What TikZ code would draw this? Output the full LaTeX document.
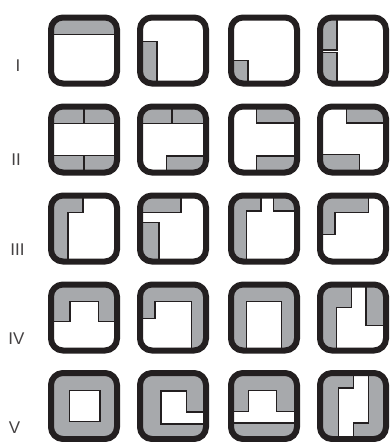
\documentclass[tikz,border=0pt]{standalone}
\usepackage{fontspec}
\setmainfont{Liberation Sans}
\definecolor{tilegray}{HTML}{A7A9AC}
\definecolor{framecol}{HTML}{231F20}
\tikzset{
  g/.style={fill=tilegray, draw=framecol, line width=1.1pt},
  w/.style={fill=white, draw=framecol, line width=1.1pt},
  frame/.style={draw=framecol, line width=6pt, rounded corners=12pt},
  rowlabel/.style={font=\fontsize{17}{17}\selectfont, text=framecol!85, inner sep=0pt},
}
\newcommand\sqtile[3]{%
  \begin{scope}[shift={(#1,#2)}]
    \begin{scope}
      \clip[rounded corners=9pt] (4.5,4.5) rectangle (67.5,67.5);
      #3
    \end{scope}
    \draw[frame] (3,3) rectangle (69,69);
  \end{scope}}
\newcommand\allgray{\fill[tilegray] (-2,-2) rectangle (74,74);}
\begin{document}
\begin{tikzpicture}[x=1pt,y=-1pt]
\useasboundingbox (0,0) rectangle (390,442);
% labels
\node[rowlabel] (l1) at (18,66) {I};
\node[rowlabel] (l2) at (16,160) {II};
\node[rowlabel] (l3) at (17.5,250) {III};
\node[rowlabel] (l4) at (16.5,339) {IV};
\node[rowlabel] (l5) at (14.5,428) {V};
% Row I
\sqtile{48}{14.5}{\filldraw[g] (-2,-2) rectangle (74,20);}
\sqtile{137}{14.5}{\filldraw[g] (-2,27) rectangle (20,74);}
\sqtile{228}{14.5}{\filldraw[g] (-2,46) rectangle (20,74);}
\sqtile{317}{14.5}{\filldraw[g] (-2,-2) rectangle (20,35.5); \filldraw[g] (-2,38) rectangle (20,74);}
% Row II
\sqtile{48}{103.5}{\filldraw[g] (-2,-2) rectangle (36,20); \filldraw[g] (36,-2) rectangle (74,20);
  \filldraw[g] (-2,52) rectangle (36,74); \filldraw[g] (36,52) rectangle (74,74);}
\sqtile{137}{103.5}{\filldraw[g] (-2,-2) rectangle (35,20); \filldraw[g] (35,-2) rectangle (74,20);
  \filldraw[g] (29.5,52.5) rectangle (74,74);}
\sqtile{228}{103.5}{\filldraw[g] (28.7,-2) rectangle (74,19.5); \filldraw[g] (28.7,52.5) rectangle (74,74);}
\sqtile{317}{103.5}{\filldraw[g] (29.7,-2) rectangle (74,19.5); \filldraw[g] (-2,51) rectangle (42.3,74);}
% Row III
\sqtile{48}{192.5}{\filldraw[g] (-2,-2) -- (35,-2) -- (35,20) -- (20,20) -- (20,74) -- (-2,74) -- cycle;}
\sqtile{137}{192.5}{\filldraw[g] (-2,-2) rectangle (44,20); \filldraw[g] (-2,30) rectangle (22,74);}
\sqtile{228}{192.5}{\filldraw[g] (-2,-2) -- (33,-2) -- (33,18.5) -- (18.7,18.5) -- (18.7,74) -- (-2,74) -- cycle;
  \filldraw[g] (45.3,-2) rectangle (74,18.5);}
\sqtile{317}{192.5}{\filldraw[g] (-2,-2) -- (51.3,-2) -- (51.3,20.3) -- (18,20.3) -- (18,42) -- (-2,42) -- cycle;}
% Row IV
\sqtile{48}{281.5}{\filldraw[g] (-2,-2) -- (74,-2) -- (74,40) -- (50.3,40) -- (50.3,19.7) -- (22,19.7) -- (22,40) -- (-2,40) -- cycle;}
\sqtile{137}{281.5}{\allgray \filldraw[w] (18,19.7) -- (54.7,19.7) -- (54.7,74) -- (-2,74) -- (-2,37.3) -- (18,37.3) -- cycle;}
\sqtile{228}{281.5}{\allgray \filldraw[w] (18.7,19.7) rectangle (53.7,74);}
\sqtile{317}{281.5}{\allgray \filldraw[w] (34.7,-2) -- (49,-2) -- (49,44) -- (74,44) -- (74,74) -- (19.7,74) -- (19.7,25.7) -- (34.7,25.7) -- cycle;}
% Row V
\sqtile{48}{370}{\allgray \filldraw[w] (21.3,20.7) rectangle (52,51.3);}
\sqtile{137}{370}{\allgray \filldraw[w] (24,21) -- (49.7,21) -- (49.7,42) -- (74,42) -- (74,54) -- (24,54) -- cycle;}
\sqtile{228}{370}{\allgray \filldraw[w] (-2,41.3) -- (20.3,41.3) -- (20.3,20.7) -- (48.7,20.7) -- (48.7,41.3) -- (74,41.3) -- (74,53) -- (-2,53) -- cycle;}
\sqtile{317}{370}{\allgray \filldraw[w] (36.3,-2) -- (51.3,-2) -- (51.3,53) -- (36.3,53) -- (36.3,74) -- (21.3,74) -- (21.3,18) -- (36.3,18) -- cycle;}
\end{tikzpicture}
\end{document}
